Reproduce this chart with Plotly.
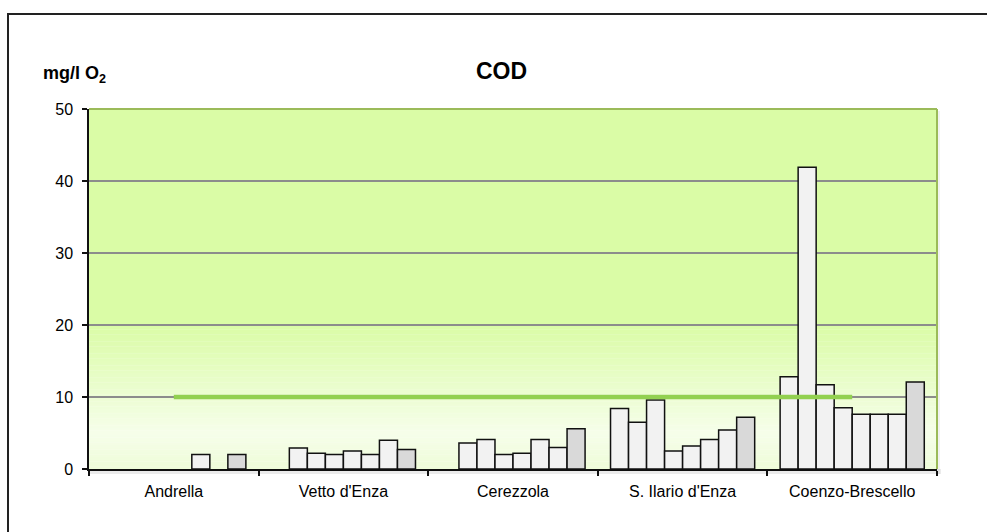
import plotly.graph_objects as go

# Stations along the Enza river
stations = ["Andrella", "Vetto d'Enza", "Cerezzola", "S. Ilario d'Enza", "Coenzo-Brescello"]

# COD values (mg/l O2) per sampling series; None = no sample
serie_1 = [None, None, None, 8.4, 12.8]
serie_2 = [None, 2.9, 3.6, 6.5, 41.9]
serie_3 = [None, 2.2, 4.1, 9.6, 11.7]
serie_4 = [None, 2.0, 2.0, 2.5, 8.5]
serie_5 = [None, 2.5, 2.2, 3.2, 7.6]
serie_6 = [2.0, 2.0, 4.1, 4.1, 7.6]
serie_7 = [None, 4.0, 3.0, 5.4, 7.6]
serie_8 = [2.0, 2.7, 5.6, 7.2, 12.1]

white_series = [serie_1, serie_2, serie_3, serie_4, serie_5, serie_6, serie_7]
grey_series = serie_8

# Reference limit
limit_value = [10, 10, 10, 10, 10]

y_ticks = [0, 10, 20, 30, 40, 50]

FONT = "Liberation Sans, Arial, sans-serif"

fig = go.Figure()

for i, vals in enumerate(white_series):
    fig.add_trace(go.Bar(
        x=stations, y=vals, name=f"serie {i + 1}",
        marker=dict(color="#f2f2f2", line=dict(color="#111111", width=1.5)),
    ))
fig.add_trace(go.Bar(
    x=stations, y=grey_series, name="serie 8",
    marker=dict(color="#d9d9d9", line=dict(color="#111111", width=1.5)),
))
fig.add_trace(go.Scatter(
    x=stations, y=limit_value, mode="lines", name="limite",
    line=dict(color="#92d050", width=4.5),
))

# Plot-area background: flat green on top, fading towards white near the base
shapes = []
top_col = (218, 252, 166)
mid_col = (246, 254, 234)
base_col = (238, 252, 216)
shapes.append(dict(type="rect", xref="paper", yref="y", x0=0, x1=1, y0=20, y1=50,
                   fillcolor="rgb(%d,%d,%d)" % top_col, line=dict(width=0), layer="below"))
steps = 60
for k in range(steps):
    y0 = 20 * k / steps
    y1 = 20 * (k + 1) / steps
    yc = (y0 + y1) / 2
    if yc >= 5:
        t = (yc - 5) / 15
        c = tuple(mid_col[j] + (top_col[j] - mid_col[j]) * t for j in range(3))
    else:
        t = yc / 5
        c = tuple(base_col[j] + (mid_col[j] - base_col[j]) * t for j in range(3))
    shapes.append(dict(type="rect", xref="paper", yref="y", x0=0, x1=1, y0=y0, y1=y1 + 0.05,
                       fillcolor="rgb(%d,%d,%d)" % tuple(int(round(v)) for v in c),
                       line=dict(width=0), layer="below"))

# Soft shadow below the x axis and right of the plot area
PW, PH = 848.0, 360.0
shapes.append(dict(type="rect", xref="paper", yref="paper", x0=0, x1=1 + 4 / PW,
                   y0=-5 / PH, y1=0, fillcolor="rgba(0,0,0,0.08)", line=dict(width=0)))
shapes.append(dict(type="rect", xref="paper", yref="paper", x0=1, x1=1 + 3 / PW,
                   y0=-5 / PH, y1=1 - 2 / PH, fillcolor="rgba(0,0,0,0.05)", line=dict(width=0)))
# Green frame on top and right
shapes.append(dict(type="line", xref="paper", yref="paper", x0=0, x1=1, y0=1, y1=1,
                   line=dict(color="#9bbb59", width=2)))
shapes.append(dict(type="line", xref="paper", yref="paper", x0=1, x1=1, y0=0, y1=1,
                   line=dict(color="#9bbb59", width=2)))
# Outer chart border
shapes.append(dict(type="rect", xref="paper", yref="paper",
                   x0=(8 - 89) / PW, x1=(1000 - 89) / PW,
                   y0=(469 - 545) / PH, y1=(469 - 14) / PH,
                   line=dict(color="#222222", width=2), fillcolor="rgba(0,0,0,0)"))

fig.update_layout(
    width=987, height=532,
    margin=dict(l=89, r=50, t=109, b=63),
    paper_bgcolor="white",
    plot_bgcolor="rgba(0,0,0,0)",
    barmode="group", bargap=0.15, bargroupgap=0,
    showlegend=False,
    font=dict(family=FONT, size=15, color="black"),
    shapes=shapes,
    annotations=[
        dict(text="<b>COD</b>", xref="paper", yref="paper",
             x=(501 - 89) / PW, y=(469 - 56) / PH, showarrow=False,
             font=dict(size=23, family=FONT)),
        dict(text="<b>mg/l O<sub>2</sub></b>", xref="paper", yref="paper",
             x=(41 - 89) / PW, y=(469 - 61) / PH, xanchor="left", showarrow=False,
             font=dict(size=18, family=FONT)),
    ],
)

fig.update_xaxes(
    type="category", categoryorder="array", categoryarray=stations,
    showline=True, linecolor="#111111", linewidth=1.5,
    ticks="outside", tickson="boundaries", ticklen=5, tickcolor="#111111", tickwidth=1.5,
    showgrid=False, tickfont=dict(size=16, family=FONT), ticklabelstandoff=7,
)
fig.update_yaxes(
    range=[0, 50], tickvals=y_ticks,
    showline=True, linecolor="#111111", linewidth=1.5,
    ticks="outside", ticklen=5, tickcolor="#111111", tickwidth=1.5,
    showgrid=True, gridcolor="#8c8c8c", gridwidth=1.5,
    zeroline=False, tickfont=dict(size=16, family=FONT), ticklabelstandoff=6,
)

fig.write_html("out.html")
